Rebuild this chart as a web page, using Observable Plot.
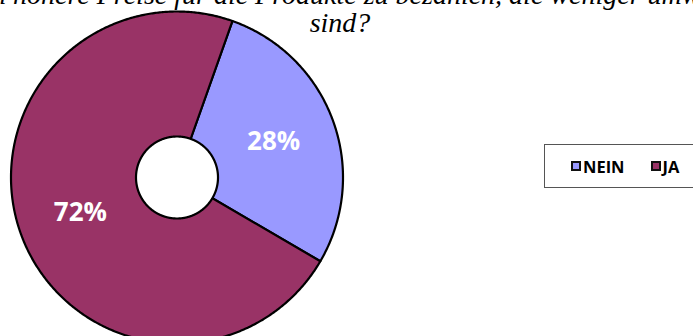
<!DOCTYPE html>
<html><head><meta charset="utf-8">
<script src="https://cdn.jsdelivr.net/npm/d3@7"></script>
<script src="https://cdn.jsdelivr.net/npm/@observablehq/plot@0.6"></script>
<style>
body{margin:0;background:#fff;}
#wrap{position:relative;width:693px;height:336px;overflow:hidden;background:#fff;}
#wrap svg{position:absolute;left:0;top:0;}
.t{position:absolute;white-space:nowrap;font-family:'Liberation Serif',serif;font-style:italic;font-size:28px;line-height:28px;color:#000;}
#legend{position:absolute;left:544px;top:144px;width:160px;height:44px;border:1px solid #555;border-right:none;background:#fff;display:flex;align-items:center;padding-left:26px;box-sizing:border-box;font-family:'Open Sans',sans-serif;font-weight:bold;font-size:16.5px;color:#000;}
.sw{width:10px;height:10px;border:2px solid #111;box-sizing:border-box;margin-right:2px;}
.it{display:flex;align-items:center;}
</style>
</head><body>
<div id="wrap"></div>
<script>
const categories = ["NEIN", "JA"];
const values = [28, 72];
const colors = ["#9999FF", "#993366"];
const labels = ["28%", "72%"];
const titleLine1Pre = "Würden Sie zustimmen";
const titleLine1 = " höhere Preise für die Produkte zu bezahlen, die weniger umweltschädlich";
const titleLine2 = "sind?";

const W = 693, H = 336;
const cx = 176.5, cy = 177, R = 166;
const startDeg = 19.5, holeRatio = 0.247, labelRatio = 0.62;

const arcs = d3.pie().sort(null)
  .startAngle(startDeg * Math.PI / 180)
  .endAngle(startDeg * Math.PI / 180 + 2 * Math.PI)(values);

const slicePts = [];
arcs.forEach((s, i) => {
  slicePts.push({k: categories[i], x: 0, y: 0});
  const n = Math.ceil((s.endAngle - s.startAngle) / (Math.PI / 360));
  for (let j = 0; j <= n; j++) {
    const a = s.startAngle + (s.endAngle - s.startAngle) * j / n;
    slicePts.push({k: categories[i], x: Math.sin(a), y: Math.cos(a)});
  }
  slicePts.push({k: categories[i], x: 0, y: 0});
});
const holePts = d3.range(0, 721).map(j => {
  const a = j * Math.PI / 360;
  return {x: holeRatio * Math.sin(a), y: holeRatio * Math.cos(a)};
});
const labelData = arcs.map((s, i) => {
  const m = (s.startAngle + s.endAngle) / 2;
  return {x: labelRatio * Math.sin(m), y: labelRatio * Math.cos(m), t: labels[i]};
});

const chart = Plot.plot({
  width: W, height: H,
  margin: 0,
  x: {domain: [-cx / R, (W - cx) / R], range: [0, W], axis: null},
  y: {domain: [(cy - H) / R, cy / R], range: [H, 0], axis: null},
  color: {domain: categories, range: colors},
  style: {background: "transparent", overflow: "hidden"},
  marks: [
    Plot.line(slicePts, {x: "x", y: "y", z: "k", fill: "k", stroke: "black", strokeWidth: 2.2, strokeLinejoin: "round"}),
    Plot.line(holePts, {x: "x", y: "y", fill: "white", stroke: "black", strokeWidth: 2.2}),
    Plot.text(labelData, {x: "x", y: "y", text: "t", fill: "white", fontSize: 26, fontWeight: "bold", fontFamily: "Open Sans"})
  ]
});
const wrap = document.getElementById("wrap");
wrap.appendChild(chart);

const t1 = document.createElement("div");
t1.className = "t";
const pre = document.createElement("span");
pre.textContent = titleLine1Pre;
t1.appendChild(pre);
t1.appendChild(document.createTextNode(titleLine1));
t1.style.top = "-19px";
wrap.appendChild(t1);
t1.style.left = (6 - pre.getBoundingClientRect().width) + "px";

const t2 = document.createElement("div");
t2.className = "t";
t2.textContent = titleLine2;
t2.style.top = "9px";
wrap.appendChild(t2);
t2.style.left = (340 - t2.getBoundingClientRect().width / 2) + "px";

const lg = document.createElement("div");
lg.id = "legend";
categories.forEach((c, i) => {
  const it = document.createElement("div");
  it.className = "it";
  if (i > 0) it.style.marginLeft = "26px";
  const sw = document.createElement("div");
  sw.className = "sw";
  sw.style.background = colors[i];
  const tx = document.createElement("span");
  tx.textContent = c;
  it.appendChild(sw); it.appendChild(tx);
  lg.appendChild(it);
});
wrap.appendChild(lg);
</script>
</body></html>
